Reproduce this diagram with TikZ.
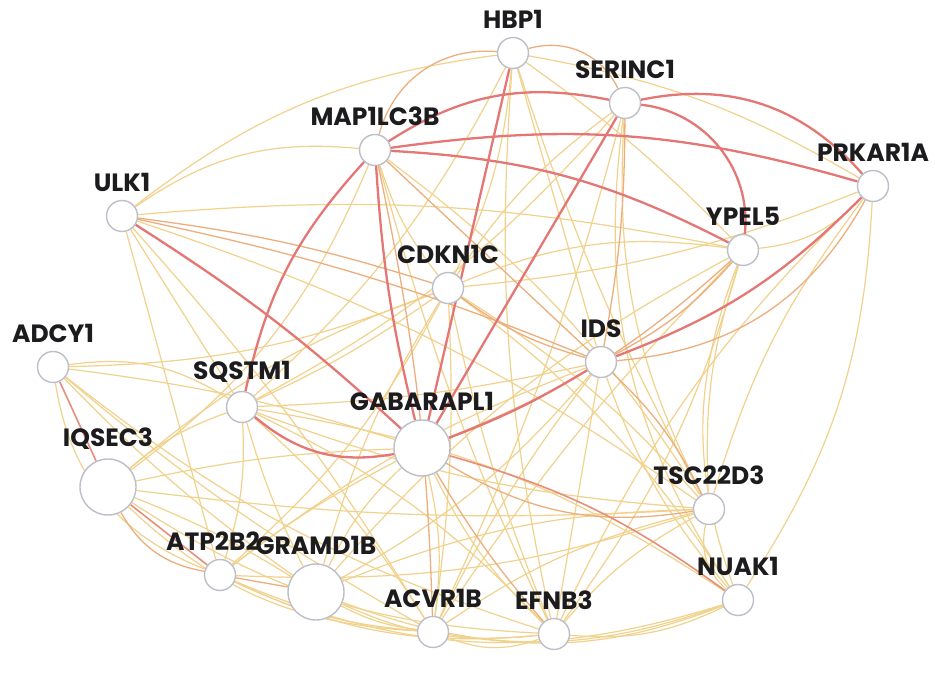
\documentclass[tikz,border=0pt]{standalone}
\usepackage{fontspec}
\setmainfont{Poppins}
\usetikzlibrary{positioning}
\usetikzlibrary{backgrounds}

\definecolor{lowc}{RGB}{240,210,140}
\definecolor{midc}{RGB}{236,174,124}
\definecolor{warmc}{RGB}{230,142,122}
\definecolor{highc}{RGB}{228,118,116}
\definecolor{ringc}{RGB}{188,190,200}
\definecolor{labc}{RGB}{28,28,30}

\begin{document}
\begin{tikzpicture}[x=0.5pt,y=0.5pt,
    gene/.style={circle,draw=ringc,fill=white,line width=0.7pt,minimum size=15.5pt,inner sep=0pt},
    hub/.style={gene,minimum size=28pt},
    lab/.style={font=\bfseries\fontsize{12.5}{13}\selectfont,text=labc,inner sep=0pt},
    low/.style={draw=lowc,line width=0.6pt},
    mid/.style={draw=midc,line width=0.65pt},
    warm/.style={draw=warmc,line width=0.8pt},
    high/.style={draw=highc,line width=1.15pt}]
\useasboundingbox (0,0) rectangle (935,690);

% genes
\node[gene] (hbp) at (513,637) {};
\node[gene] (serinc) at (625,587) {};
\node[gene] (maplc) at (375,540) {};
\node[gene] (prkar) at (873,504) {};
\node[gene] (ulk) at (122,474) {};
\node[gene] (ypel) at (743,440) {};
\node[gene] (cdkn) at (448,402) {};
\node[gene] (ids) at (601,328) {};
\node[gene] (adcy) at (53,323) {};
\node[gene] (sqstm) at (242,283) {};
\node[hub] (gabar) at (422,242) {};
\node[hub] (iqsec) at (108,203) {};
\node[gene] (tsc) at (709,181) {};
\node[gene] (atp) at (220,115) {};
\node[hub] (gramd) at (316,98) {};
\node[gene] (nuak) at (738,90) {};
\node[gene] (acvr) at (433,58) {};
\node[gene] (efnb) at (554,56) {};

% labels
\node[lab,above=4pt of hbp] (hbptxt) {HBP1};
\node[lab,above=4pt of serinc] (serinctxt) {SERINC1};
\node[lab,above=4pt of maplc] (maplctxt) {MAP1LC3B};
\node[lab,above=4pt of prkar] (prkartxt) {PRKAR1A};
\node[lab,above=4pt of ulk] (ulktxt) {ULK1};
\node[lab,above=4pt of ypel] (ypeltxt) {YPEL5};
\node[lab,above=4pt of cdkn] (cdkntxt) {CDKN1C};
\node[lab,above=4pt of ids] (idstxt) {IDS};
\node[lab,above=4pt of adcy] (adcytxt) {ADCY1};
\node[lab,above=4pt of sqstm] (sqstmtxt) {SQSTM1};
\node[lab,above=4pt of gabar] (gabartxt) {GABARAPL1};
\node[lab,above=4pt of iqsec] (iqsectxt) {IQSEC3};
\node[lab,above=4pt of tsc] (tsctxt) {TSC22D3};
\node[lab,above=4pt of atp,xshift=-3.5pt] (atptxt) {ATP2B2};
\node[lab,above=4pt of gramd] (gramdtxt) {GRAMD1B};
\node[lab,above=4pt of nuak] (nuaktxt) {NUAK1};
\node[lab,above=4pt of acvr] (acvrtxt) {ACVR1B};
\node[lab,above=4pt of efnb] (efnbtxt) {EFNB3};

\begin{scope}[on background layer]
% weak links
\foreach \a/\b/\bb in {hbp/ulk/-15,ulk/maplc/20,ulk/ypel/8,ulk/sqstm/0,ulk/atp/0,
    ulk/acvr/5,ulk/tsc/8,hbp/prkar/10,hbp/ypel/5,hbp/ids/0,hbp/tsc/-5,hbp/cdkn/10,
    hbp/sqstm/10,hbp/efnb/-8,serinc/cdkn/-10,serinc/sqstm/10,serinc/tsc/-15,
    serinc/nuak/-20,serinc/acvr/5,maplc/cdkn/-10,maplc/tsc/10,maplc/efnb/-5,
    maplc/iqsec/15,prkar/ypel/20,prkar/cdkn/8,prkar/tsc/-10,prkar/nuak/15,
    prkar/efnb/-10,ypel/efnb/10,ypel/acvr/-5,ypel/cdkn/-15,ypel/gramd/-10,
    cdkn/sqstm/5,cdkn/tsc/8,cdkn/nuak/10,cdkn/efnb/-5,cdkn/acvr/5,cdkn/gramd/-8,
    cdkn/atp/10,cdkn/iqsec/-10,cdkn/adcy/10,ids/sqstm/5,ids/efnb/0,ids/acvr/-5,
    ids/gramd/10,ids/atp/-8,ids/nuak/-10,sqstm/adcy/-20,sqstm/iqsec/-10,
    sqstm/atp/10,sqstm/gramd/-5,sqstm/acvr/8,sqstm/efnb/10,sqstm/nuak/12,
    sqstm/tsc/-8,adcy/atp/-30,adcy/gramd/-5,adcy/acvr/-5,adcy/gabar/5,
    adcy/efnb/-10,iqsec/gramd/5,iqsec/acvr/-20,iqsec/efnb/-15,iqsec/gabar/5,
    iqsec/tsc/-5,atp/acvr/-10,atp/efnb/-15,atp/nuak/-20,atp/tsc/-10,atp/gabar/5,
    gramd/acvr/-10,gramd/efnb/-15,gramd/nuak/-20,gramd/tsc/10,gramd/gabar/10,
    acvr/efnb/-20,acvr/nuak/-15,acvr/tsc/10,acvr/gabar/-10,efnb/nuak/-15,
    efnb/tsc/10,efnb/gabar/10,tsc/nuak/-30,tsc/ypel/10,nuak/ypel/20}
  \draw[low] (\a) to[bend left=\bb] (\b);
% medium links
\foreach \a/\b/\bb in {hbp/maplc/-40,hbp/serinc/40,ulk/ids/5,ulk/cdkn/5,
    ids/ypel/-10,ids/prkar/-28,ids/cdkn/10,ids/maplc/0,ids/tsc/10,
    gabar/tsc/-20,gabar/ypel/-10,maplc/acvr/5,serinc/ids/5,atp/gramd/0,
    iqsec/atp/-25,gabar/efnb/-5}
  \draw[mid] (\a) to[bend left=\bb] (\b);
% stronger links
\foreach \a/\b/\bb in {gabar/nuak/10,adcy/iqsec/0,iqsec/atp/0}
  \draw[warm] (\a) to[bend left=\bb] (\b);
\foreach \a/\b/\bb in {maplc/prkar/12,maplc/ypel/12,serinc/prkar/30,
    serinc/ypel/45,maplc/serinc/22,hbp/gabar/0,serinc/gabar/0,maplc/gabar/-5,
    maplc/sqstm/-15,ulk/gabar/5,sqstm/gabar/-25,ids/gabar/5,ids/prkar/-12}
  \draw[high] (\a) to[bend left=\bb] (\b);
\end{scope}
\end{tikzpicture}
\end{document}
